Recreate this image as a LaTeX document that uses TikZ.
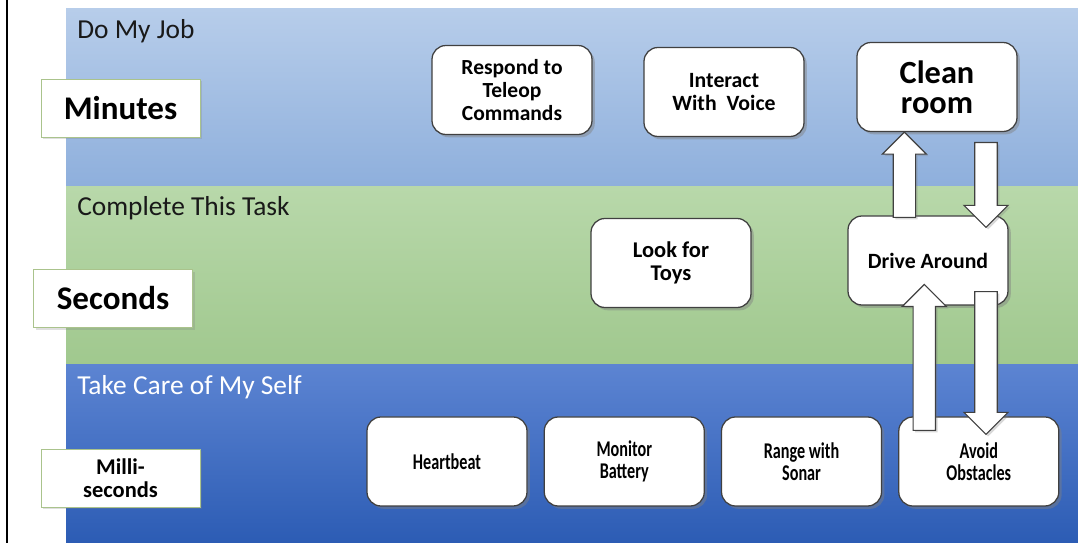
\documentclass[tikz,border=0pt]{standalone}
\usepackage{fontspec}
\setmainfont{Carlito}
\newfontfamily\narrowfont[FakeStretch=0.72]{Carlito}
\usepackage{tikz}
\usetikzlibrary{positioning,calc,shadows}

\definecolor{jobtop}{RGB}{183,205,234}
\definecolor{jobbot}{RGB}{142,175,220}
\definecolor{tasktop}{RGB}{184,216,170}
\definecolor{taskbot}{RGB}{160,200,142}
\definecolor{selftop}{RGB}{92,132,210}
\definecolor{selfbot}{RGB}{44,92,180}
\definecolor{labelrim}{RGB}{170,195,140}

% block arrows between two points (x taken from the tail)
\newcommand{\arrowup}[2]{%
  \draw[blockarr] let \p1=(#1), \p2=(#2) in
    (\x1-0.28cm,\y1) -- (\x1-0.28cm,\y2-0.55cm) -- (\x1-0.55cm,\y2-0.55cm)
    -- (\x1,\y2) -- (\x1+0.55cm,\y2-0.55cm) -- (\x1+0.28cm,\y2-0.55cm)
    -- (\x1+0.28cm,\y1) -- cycle;}
\newcommand{\arrowdown}[2]{%
  \draw[blockarr] let \p1=(#1), \p2=(#2) in
    (\x1-0.28cm,\y1) -- (\x1-0.28cm,\y2+0.55cm) -- (\x1-0.55cm,\y2+0.55cm)
    -- (\x1,\y2) -- (\x1+0.55cm,\y2+0.55cm) -- (\x1+0.28cm,\y2+0.55cm)
    -- (\x1+0.28cm,\y1) -- cycle;}

\begin{document}
\begin{tikzpicture}[
            title/.style={anchor=base west, inner sep=0pt, text=black!90, font=\fontsize{19.5}{22}\selectfont},
            level/.style={draw=labelrim, fill=white, line width=0.6pt,
                minimum width=3.975cm, minimum height=1.45cm, align=center,
                drop shadow={shadow xshift=1.5pt, shadow yshift=-1.5pt, opacity=0.25}},
            job/.style={draw=black!75, line width=0.9pt, fill=white,
                rounded corners=0.35cm, minimum width=4cm, minimum height=2.225cm,
                align=center, font=\fontsize{15.3}{16.5}\selectfont\bfseries,
                drop shadow={shadow xshift=2pt, shadow yshift=-2pt, opacity=0.45}},
            low/.style={font=\fontsize{16}{16}\selectfont\narrowfont\bfseries},
            blockarr/.style={draw=black!75, fill=white, line width=0.8pt,
                drop shadow={shadow xshift=1.5pt, shadow yshift=-1.5pt, opacity=0.3}}
        ]
        \useasboundingbox (0,0) rectangle (26.95,13.575);
        % bands
        \shade[top color=jobtop, bottom color=jobbot] (1.65,8.9) rectangle (26.95,13.35);
        \shade[top color=tasktop, bottom color=taskbot] (1.65,4.45) rectangle (26.95,8.9);
        \shade[top color=selftop, bottom color=selfbot] (1.65,0) rectangle (26.95,4.45);
        \draw[line width=1.8pt] (0.175,0) -- (0.175,13.575);

        \node[title] (jobtitle) at (1.925,12.6) {Do My Job};
        \node[title] (tasktitle) at (1.925,8.175) {Complete This Task};
        \node[title, text=white] (selftitle) at (1.925,3.7) {Take Care of My Self};

        \node[level, font=\fontsize{23.5}{26}\selectfont\bfseries] (minutes) at (3.0125,10.875) {Minutes};
        \node[level, font=\fontsize{23.5}{26}\selectfont\bfseries] (seconds) at (2.825,6.1125) {Seconds};
        \node[level, font=\fontsize{16}{16}\selectfont\bfseries] (milli) at (3.0125,1.625) {Milli-\\seconds};

        \node[job] (teleop) at (12.8,11.325) {Respond to\\Teleop\\Commands};
        \node[job, font=\fontsize{15.5}{16.5}\selectfont\bfseries] (voice) at (18.1,11.275) {Interact\\With\ \ Voice};
        \node[job, font=\fontsize{23}{21.5}\selectfont\bfseries] (clean) at (23.425,11.4) {Clean\\room};
        \node[job, font=\fontsize{16}{16}\selectfont\bfseries] (toys) at (16.775,7.0) {Look for\\Toys};
        \node[job, font=\fontsize{15.5}{16.5}\selectfont\bfseries] (drive) at (23.2,7.0625) {Drive Around};

        \node[job, low] (heart) at (11.175,2.0375) {Heartbeat};
        \node[job, low, right=0.4cm of heart] (battery) {Monitor\\Battery};
        \node[job, low, right=0.4cm of battery] (sonar) {Range with\\Sonar};
        \node[job, low, right=0.4cm of sonar] (avoid) {Avoid\\Obstacles};

        % arrows up and down the layers
        \arrowup{$(drive.north)+(-0.59,-0.05)$}{clean.south}
        \arrowdown{$(clean.south)+(1.225,-0.26)$}{$(drive.north)+(0,-0.3)$}
        \arrowup{$(avoid.north)+(-1.3625,-0.35)$}{$(drive.south)+(0,0.53)$}
        \arrowdown{$(drive.south)+(1.45,0.35)$}{$(avoid.north)+(0,-0.45)$}
\end{tikzpicture}
\end{document}
